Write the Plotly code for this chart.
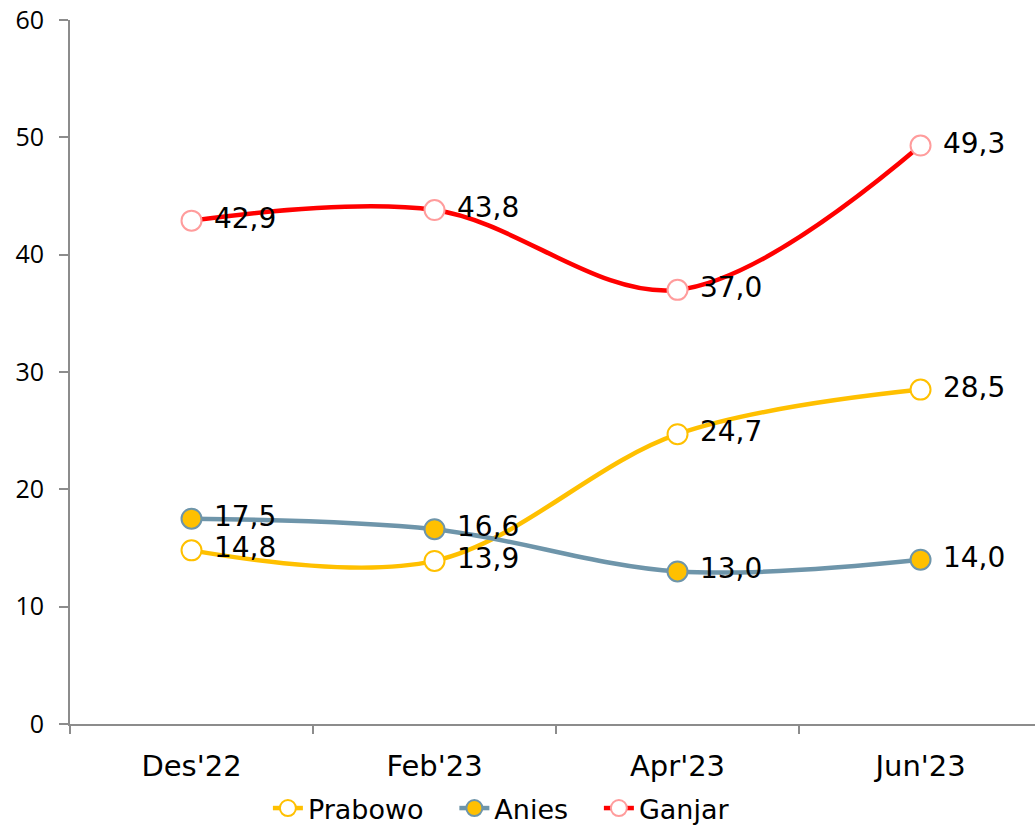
import plotly.graph_objects as go

categories = ["Des'22", "Feb'23", "Apr'23", "Jun'23"]
prabowo = [14.8, 13.9, 24.7, 28.5]
anies = [17.5, 16.6, 13.0, 14.0]
ganjar = [42.9, 43.8, 37.0, 49.3]
y_ticks = [0, 10, 20, 30, 40, 50, 60]

def fmt(v):
    return f"{v:.1f}".replace(".", ",")

series = [
    ("Prabowo", prabowo, "#FFC000", "#FFFFFF", "#FFC000"),
    ("Anies", anies, "#6E95AA", "#FFC000", "#6E95AA"),
    ("Ganjar", ganjar, "#FF0000", "#FFFFFF", "#FF9C9C"),
]

FONT = "DejaVu Sans, sans-serif"
PAD = "\u00a0\u00a0\u00a0"

fig = go.Figure()
for name, vals, lc, fill, edge in series:
    fig.add_trace(go.Scatter(
        x=categories, y=vals, name=name + PAD,
        mode="lines+markers+text",
        line=dict(color=lc, width=4.5, shape="spline", smoothing=1.0),
        marker=dict(size=20, color=fill, line=dict(color=edge, width=2)),
        text=[" " + fmt(v) for v in vals],
        textposition="middle right",
        textfont=dict(family=FONT, size=28, color="#000000"),
        cliponaxis=False,
    ))

fig.update_layout(
    width=1035, height=833,
    margin=dict(l=70, r=0, t=20, b=109),
    paper_bgcolor="white", plot_bgcolor="white",
    showlegend=True,
    legend=dict(orientation="h", x=0.46, xanchor="center",
                yref="container", y=-0.007, yanchor="bottom",
                font=dict(family=FONT, size=27, color="#000000"),
                tracegroupgap=0),
)
fig.update_xaxes(
    type="category", range=[-0.5, 3.471], automargin=False,
    showline=True, linecolor="#8C8C8C", linewidth=2,
    ticks="outside", tickson="boundaries", ticklen=8, tickcolor="#8C8C8C", tickwidth=1.5,
    showgrid=False, zeroline=False,
    tickfont=dict(family=FONT, size=29, color="#000000"),
    ticklabelstandoff=15,
)
fig.update_yaxes(
    range=[0, 60], tickvals=y_ticks, automargin=False,
    showline=True, linecolor="#8C8C8C", linewidth=2,
    ticks="outside", ticklen=9, tickcolor="#8C8C8C", tickwidth=1.5,
    showgrid=False, zeroline=False, ticklabeloverflow="allow",
    tickfont=dict(family="Open Sans, sans-serif", size=25, color="#000000"),
    ticklabelstandoff=10,
)
fig.write_html("out.html", config={"displayModeBar": False},
               post_script="document.body.style.margin='0px';")
